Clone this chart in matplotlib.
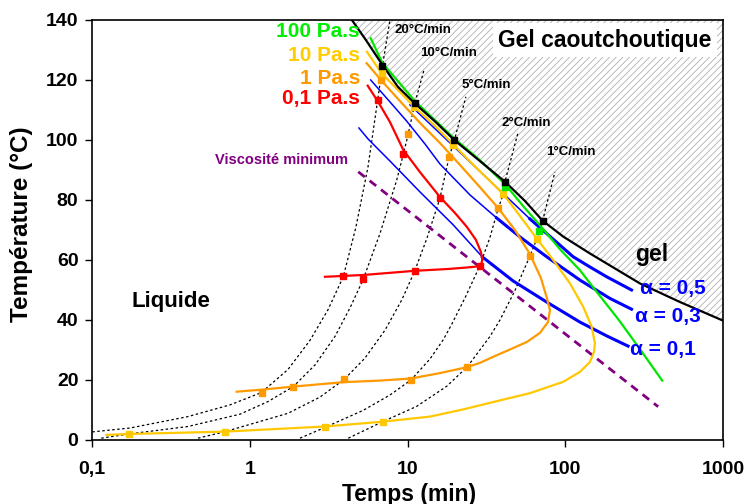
import matplotlib
matplotlib.use("Agg")
import matplotlib.pyplot as plt

plt.rcParams['font.family'] = ['Liberation Sans', 'DejaVu Sans']
plt.rcParams['hatch.color'] = '#b0b0b0'
plt.rcParams['hatch.linewidth'] = 0.6

# ---------------- data (time in min, temperature in °C) ----------------
gel_t = [4.43, 5.44, 6.922, 8.68, 11.1, 14.9, 19.75, 28.7, 41.4, 55.4, 71.8, 97, 143, 297, 533, 1000]
gel_T = [140, 133.3, 125, 117.7, 112.2, 106.2, 100, 93, 86.1, 79.7, 73.1, 67.8, 62.2, 52.2, 46, 39.8]

visc100_t = [5.83, 6.91, 11.1, 19.75, 28.7, 41.4, 55.4, 70.0, 92.4, 123.8, 157.9, 215.6, 290, 411.6]
visc100_T = [133.9, 125.7, 113, 100.5, 93.3, 85.3, 77.3, 71.2, 63.6, 56.6, 49.4, 40.4, 31.1, 19.8]

visc10_t = [5.52, 6.84, 8.93, 10.96, 14.9, 19.46, 26.7, 40.4, 51.5, 65.8, 83.8, 107, 129.9, 146.8,
            154.1, 151.9, 143.2, 123.8, 97, 59.6, 38.5, 22.5, 13.85, 6.94, 2.99, 0.697, 0.17, 0.123]
visc10_T = [129.4, 122.2, 116, 111.2, 104.7, 98.5, 91.2, 82, 74.7, 67.2, 60, 52.2, 44.4, 37.8,
            32.2, 29.3, 26, 22.7, 19.4, 15.6, 13.2, 10.2, 7.8, 6.1, 4.5, 2.8, 2.0, 1.7]

visc1_t = [5.495, 6.77, 8.93, 11.97, 16.03, 21.46, 28.7, 37.53, 47.9, 59.6, 70.0, 76.4, 79.9, 77.6,
           69.0, 57.1, 46.5, 35.8, 28.7, 23.9, 16.03, 10.5, 6.672, 3.96, 1.882, 1.197, 0.823]
visc1_T = [125.6, 120, 113, 105.7, 99, 91.7, 84.3, 77.3, 70, 62, 54, 47.3, 43.3, 39.3,
           35.7, 32.7, 30.6, 28, 25.7, 24.3, 22.3, 20.5, 19.8, 19.3, 17.8, 16.8, 16.1]

visc01_t = [5.58, 6.45, 7.72, 9.38, 11.97, 16.03, 19.94, 23.77, 27.1, 29.15, 29.8, 29.15, 27.1, 23.77,
            18.0, 11.1, 5.23, 2.99]
visc01_T = [118.1, 113.0, 106.0, 96.7, 89.3, 81.0, 75.7, 71.0, 66.7, 62.7, 60, 58.5, 57.8, 57.5,
            57.0, 56.4, 55, 54.4]

alpha05_t = [10.34, 16.03, 24.84, 38.47, 59.6, 82.2, 112, 143, 183, 263]
alpha05_T = [111.7, 102.2, 92.7, 83.2, 73.7, 67.3, 61.1, 57.7, 54.4, 50]
alpha03_t = [5.83, 7.72, 9.86, 12.87, 16.03, 24.84, 36.7, 51.5, 76.1, 123.8, 191.8, 263]
alpha03_T = [120, 112.7, 106.3, 98.7, 92, 81.7, 74, 67.7, 61.1, 53.3, 47.2, 43.6]
alpha01_t = [4.91, 5.62, 7.72, 11.97, 19.46, 29.8, 46.7, 76.1, 123.8, 183, 250]
alpha01_T = [104, 100.3, 93, 82.7, 71.7, 61, 53, 46, 39.3, 34.7, 31.3]

visc_min_t = [4.86, 388]
visc_min_T = [89.4, 11.1]

ramp20_t = [0.1, 0.1734, 0.404, 0.7467, 1.179, 1.742, 2.401, 3.123, 3.905, 4.7, 5.603, 6.453, 6.922, 7.723]
ramp20_T = [2.7, 4.0, 7.8, 11.7, 15.8, 23.5, 33.2, 43.4, 54.4, 71, 91, 113.3, 124.7, 140]
ramp10_t = [0.114, 0.17, 0.404, 0.864, 1.3, 1.882, 2.584, 3.459, 4.307, 5.23, 6.672, 8.52, 9.38, 10.09,
            11.1, 12.69]
ramp10_T = [0.6, 2.0, 4.5, 8.6, 12.8, 17.8, 25, 34.5, 44, 53.6, 68.8, 86.6, 95.2, 102,
            112.2, 123.3]
ramp5_t = [0.468, 0.697, 1.742, 2.779, 3.96, 5.361, 7.181, 9.2, 11.1, 13.26, 16.03, 18.3, 19.8, 23.4]
ramp5_T = [0.6, 2.8, 8.9, 14.3, 20.2, 27.3, 36.6, 46.8, 56.4, 67.3, 80.6, 94.2, 100, 114.4]
ramp2_t = [2.075, 2.99, 5.23, 7.723, 10.5, 13.85, 16.81, 19.0, 23.42, 28.7, 33.25, 37.53, 40.4, 41.4, 50.03]
ramp2_T = [0.6, 4.2, 9.9, 15.0, 20, 27, 33.4, 38.5, 48, 58.1, 67.5, 77.2, 81.9, 86.1, 102.3]
ramp1_t = [4.2, 6.94, 11.4, 17.68, 23.9, 33.25, 38.5, 47.9, 59.6, 65.8, 71.8, 85.9]
ramp1_T = [0.6, 6.1, 11.2, 17.9, 24.4, 34.5, 40, 49.8, 61.3, 66.9, 73.1, 89.3]

# measured points (markers)
pts_black_t = [6.922, 11.1, 19.75, 41.4, 71.8]
pts_black_T = [124.7, 112.2, 100, 86.1, 73.1]
pts_green_t = [41.4, 68]
pts_green_T = [84.2, 69.8]
pts_10_t = [6.84, 10.96, 19.5, 40.4, 65.8, 0.17, 0.697, 2.99, 6.94]
pts_10_T = [122.2, 110.9, 98.3, 81.9, 66.9, 2.0, 2.8, 4.2, 6.1]
pts_1_t = [6.77, 10.09, 18.3, 37.5, 59.6, 1.197, 1.882, 3.96, 10.5, 23.9]
pts_1_T = [120, 102, 94.2, 77.2, 61.3, 15.8, 17.8, 20.2, 20, 24.4]
pts_01_t = [6.453, 9.38, 16.03, 28.7, 11.1, 5.23, 3.905]
pts_01_T = [113.3, 95.2, 80.6, 58.1, 56.4, 53.6, 54.7]

x_ticks = [0.1, 1, 10, 100, 1000]
x_tick_labels = ['0,1', '1', '10', '100', '1000']
y_ticks = [0, 20, 40, 60, 80, 100, 120, 140]

# colours
C_GREEN = '#00E600'
C_YEL = '#FFC800'
C_ORA = '#FF9900'
C_RED = '#FF0000'
C_BLUE = '#0000FF'
C_PURP = '#800080'

fig = plt.figure(figsize=(7.49, 5.04), dpi=100)
ax = fig.add_axes([92.3 / 749, 1 - 440 / 504, (723 - 92.3) / 749, 420 / 504])
ax.set_xscale('log')
ax.set_xlim(0.1, 1000)
ax.set_ylim(0, 140)

# gel region
ax.fill_between(gel_t, gel_T, 140, facecolor='white', edgecolor='#b0b0b0', hatch='/////',
                linewidth=0, zorder=1)

# heating ramps
for rt, rT in [(ramp20_t, ramp20_T), (ramp10_t, ramp10_T), (ramp5_t, ramp5_T),
               (ramp2_t, ramp2_T), (ramp1_t, ramp1_T)]:
    ax.plot(rt, rT, color='black', lw=0.9, ls=(0, (2, 2)), zorder=2)

# minimum viscosity
ax.plot(visc_min_t, visc_min_T, color=C_PURP, lw=2, ls=(0, (3, 2.2)), zorder=3)

# iso-conversion lines (thin upper part, thick lower part)
for at, aT, k in [(alpha05_t, alpha05_T, 4), (alpha03_t, alpha03_T, 6), (alpha01_t, alpha01_T, 5)]:
    ax.plot(at, aT, color=C_BLUE, lw=1.1, zorder=3)
    ax.plot(at[k:], aT[k:], color=C_BLUE, lw=2.2, zorder=3)

# iso-viscosity curves
ax.plot(visc01_t, visc01_T, color=C_RED, lw=1.6, zorder=4)
ax.plot(visc1_t, visc1_T, color=C_ORA, lw=1.6, zorder=4)
ax.plot(visc10_t, visc10_T, color=C_YEL, lw=1.6, zorder=4)
ax.plot(visc100_t, visc100_T, color=C_GREEN, lw=1.6, zorder=4)

# gel line
ax.plot(gel_t, gel_T, color='black', lw=1.6, zorder=5)

ms = 5
ax.plot(pts_01_t, pts_01_T, 's', color=C_RED, ms=ms, zorder=6)
ax.plot(pts_1_t, pts_1_T, 's', color=C_ORA, ms=ms, zorder=6)
ax.plot(pts_10_t, pts_10_T, 's', color=C_YEL, ms=ms, zorder=6)
ax.plot(pts_green_t, pts_green_T, 's', color=C_GREEN, ms=ms, zorder=6)
ax.plot(pts_black_t, pts_black_T, 's', color='black', ms=ms, zorder=7)

# texts
bold = dict(fontweight='bold')
ax.text(4.98, 136.1, '100 Pa.s', color='#00EE00', fontsize=15, ha='right', va='center', zorder=8, **bold)
ax.text(4.98, 128.3, '10 Pa.s', color='#FFCC00', fontsize=15, ha='right', va='center', zorder=8, **bold)
ax.text(4.98, 120.6, '1 Pa.s', color=C_ORA, fontsize=15, ha='right', va='center', zorder=8, **bold)
ax.text(4.98, 113.7, '0,1 Pa.s', color=C_RED, fontsize=15, ha='right', va='center', zorder=8, **bold)
ax.text(4.18, 93.3, 'Viscosité minimum', color=C_PURP, fontsize=10.5, ha='right', va='center', zorder=8, **bold)
ax.text(178, 133.3, 'Gel caoutchoutique', color='black', fontsize=16.5, ha='center', va='center', zorder=8,
        bbox=dict(facecolor='white', edgecolor='none', pad=4), **bold)
ax.text(354, 61.7, 'gel', color='black', fontsize=16.5, ha='center', va='center', zorder=8, **bold)
ax.text(0.3146, 46.1, 'Liquide', color='black', fontsize=16, ha='center', va='center', zorder=8, **bold)
ax.text(297, 50.6, 'α = 0,5', color=C_BLUE, fontsize=15, ha='left', va='center', zorder=8, **bold)
ax.text(276, 41.1, 'α = 0,3', color=C_BLUE, fontsize=15, ha='left', va='center', zorder=8, **bold)
ax.text(257, 30, 'α = 0,1', color=C_BLUE, fontsize=15, ha='left', va='center', zorder=8, **bold)
for lbl, tx, ty in [('20°C/min', 8.31, 136.7), ('10°C/min', 11.97, 128.9), ('5°C/min', 22.0, 118.3),
                    ('2°C/min', 39.5, 105.6), ('1°C/min', 76.1, 96.1)]:
    ax.text(tx, ty, lbl, color='black', fontsize=9.5, ha='left', va='center', zorder=8, **bold)

# axes styling
ax.set_xticks(x_ticks, labels=x_tick_labels)
ax.xaxis.set_minor_locator(matplotlib.ticker.NullLocator())
ax.set_yticks(y_ticks)
ax.tick_params(axis='both', direction='out', length=5, width=1, labelsize=14)
ax.tick_params(axis='x', pad=10)
ax.tick_params(axis='y', pad=5)
for lab in ax.get_xticklabels() + ax.get_yticklabels():
    lab.set_fontweight('bold')
for s in ax.spines.values():
    s.set_linewidth(1.2)
    s.set_zorder(9)

fig.text(409.5 / 749, 1 - 494 / 504, 'Temps (min)', ha='center', va='center', fontsize=16.5, fontweight='bold')
fig.text(22 / 749, 1 - 224 / 504, 'Température (°C)', ha='center', va='center', rotation=90,
         fontsize=17.5, fontweight='bold')

fig.savefig('out.png', dpi=100)
